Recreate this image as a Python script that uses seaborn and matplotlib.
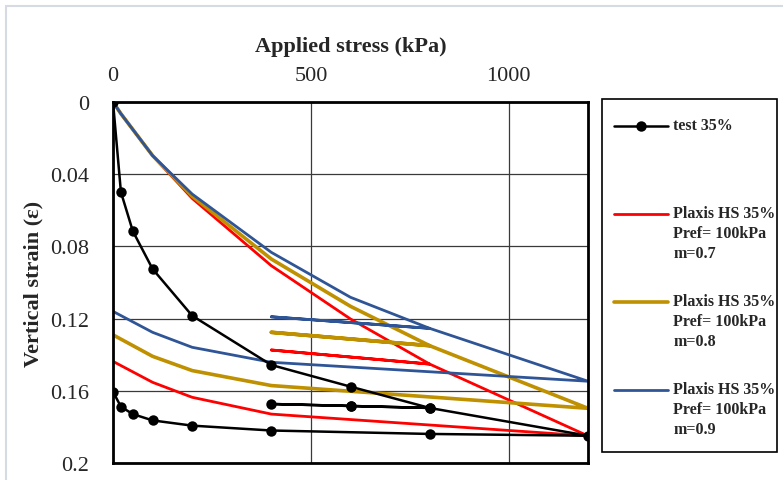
import numpy as np
import pandas as pd
import seaborn as sns
import matplotlib.pyplot as plt
from matplotlib.legend_handler import HandlerLine2D
from matplotlib.patches import Rectangle

# test curve (loading, unload/reload loop at 400-800, load to 1200, unload to 0)
stress_test = [0, 20, 50, 100, 200, 400, 600, 800, 600, 400, 600, 800,
               1200, 800, 400, 200, 100, 50, 20, 0]
strain_test = [0, 0.0499, 0.0715, 0.0925, 0.1184, 0.1457, 0.1577, 0.1695,
               0.1684, 0.1673, 0.1684, 0.1695, 0.1849, 0.1839, 0.1820,
               0.1793, 0.1764, 0.1729, 0.1688, 0.1605]

# Plaxis HS runs
stress_hs = [0, 20, 100, 200, 400, 600, 800, 400, 800, 1200, 400, 200, 100, 0]
strain_m07 = [0, 0.0065, 0.0297, 0.0534, 0.0907, 0.1202, 0.1452, 0.1374,
              0.1452, 0.1850, 0.1729, 0.1636, 0.1553, 0.1437]
strain_m08 = [0, 0.0065, 0.0297, 0.0522, 0.0870, 0.1132, 0.1350, 0.1276,
              0.1350, 0.1697, 0.1571, 0.1488, 0.1409, 0.1290]
strain_m09 = [0, 0.0065, 0.0297, 0.0510, 0.0833, 0.1082, 0.1254, 0.1190,
              0.1254, 0.1547, 0.1442, 0.1359, 0.1276, 0.1160]

labels = ['test 35%\n\n',
          'Plaxis HS 35%\nPref= 100kPa\nm=0.7',
          'Plaxis HS 35%\nPref= 100kPa\nm=0.8',
          'Plaxis HS 35%\nPref= 100kPa\nm=0.9']
colors = ['black', '#FF0000', '#BF9000', '#2F5597']

xticks = [0, 500, 1000]
yticks = [0, 0.04, 0.08, 0.12, 0.16, 0.2]
ytick_labels = ['0', '0.04', '0.08', '0.12', '0.16', '0.2']

sns.set_style('white')
plt.rcParams['font.family'] = ['Liberation Serif', 'DejaVu Serif']

fig = plt.figure(figsize=(7.83, 4.81), dpi=100)
ax = fig.add_axes([113 / 783, 1 - 464 / 481, 475 / 783, 361 / 481])

# light outer chart-area border
fig.patches.append(Rectangle((6 / 783, -0.1), 1.2, 1.1 - 7 / 481,
                             transform=fig.transFigure, fill=False,
                             edgecolor='#d6dae3', linewidth=1.5))
# legend frame
fig.patches.append(Rectangle((602 / 783, 1 - 453 / 481), 175 / 783, 353 / 481,
                             transform=fig.transFigure, fill=False,
                             edgecolor='black', linewidth=1.2))

df_test = pd.DataFrame({'stress': stress_test, 'strain': strain_test})
sns.lineplot(data=df_test, x='stress', y='strain', sort=False, estimator=None,
             color=colors[0], linewidth=1.8, marker='o', markersize=7.5,
             markeredgewidth=0, label=labels[0], ax=ax)

for strain, col, lab, lw in zip([strain_m07, strain_m08, strain_m09],
                                colors[1:], labels[1:], [2.0, 2.6, 2.0]):
    df = pd.DataFrame({'stress': stress_hs, 'strain': strain})
    sns.lineplot(data=df, x='stress', y='strain', sort=False, estimator=None,
                 color=col, linewidth=lw, label=lab, ax=ax)

# test curve on top
ax.lines[0].set_zorder(5)

ax.set_xlim(0, 1200)
ax.set_ylim(0.2, 0)
ax.xaxis.tick_top()
ax.xaxis.set_label_position('top')
ax.set_xticks(xticks)
ax.set_yticks(yticks)
ax.set_yticklabels(ytick_labels)
ax.tick_params(axis='both', length=0, labelsize=16)
ax.tick_params(axis='x', pad=12)
ax.tick_params(axis='y', pad=17)
ax.grid(True, color='#3a3a3a', linewidth=0.9)
ax.set_axisbelow(True)
for s in ax.spines.values():
    s.set_color('black')
    s.set_linewidth(2)

ax.set_xlabel('Applied stress (kPa)', fontsize=16, fontweight='bold', labelpad=11)
ax.set_ylabel('Vertical strain (ε)', fontsize=16, fontweight='bold', labelpad=5)


class TopLineHandler(HandlerLine2D):
    # put the legend line next to the first line of a multi-line label
    def __init__(self, shift, **kw):
        super().__init__(**kw)
        self.shift = shift

    def create_artists(self, legend, orig_handle, xdescent, ydescent,
                       width, height, fontsize, trans):
        arts = super().create_artists(legend, orig_handle, xdescent, ydescent,
                                      width, height, fontsize, trans)
        for a in arts:
            a.set_ydata(np.asarray(a.get_ydata()) + self.shift * fontsize)
        return arts


handles, labs = ax.get_legend_handles_labels()
leg = ax.legend(handles, labs, loc='upper left',
                bbox_to_anchor=(614 / 783, 1 - 118 / 481),
                bbox_transform=fig.transFigure,
                prop={'weight': 'bold', 'size': 11.5},
                frameon=False, borderpad=0, labelspacing=1.97,
                handlelength=3.4, handletextpad=0.3, borderaxespad=0,
                handler_map={h: TopLineHandler(1.22) for h in handles})
for t in leg.get_texts():
    t.set_linespacing(1.35)

plt.savefig('out.png', dpi=100)
